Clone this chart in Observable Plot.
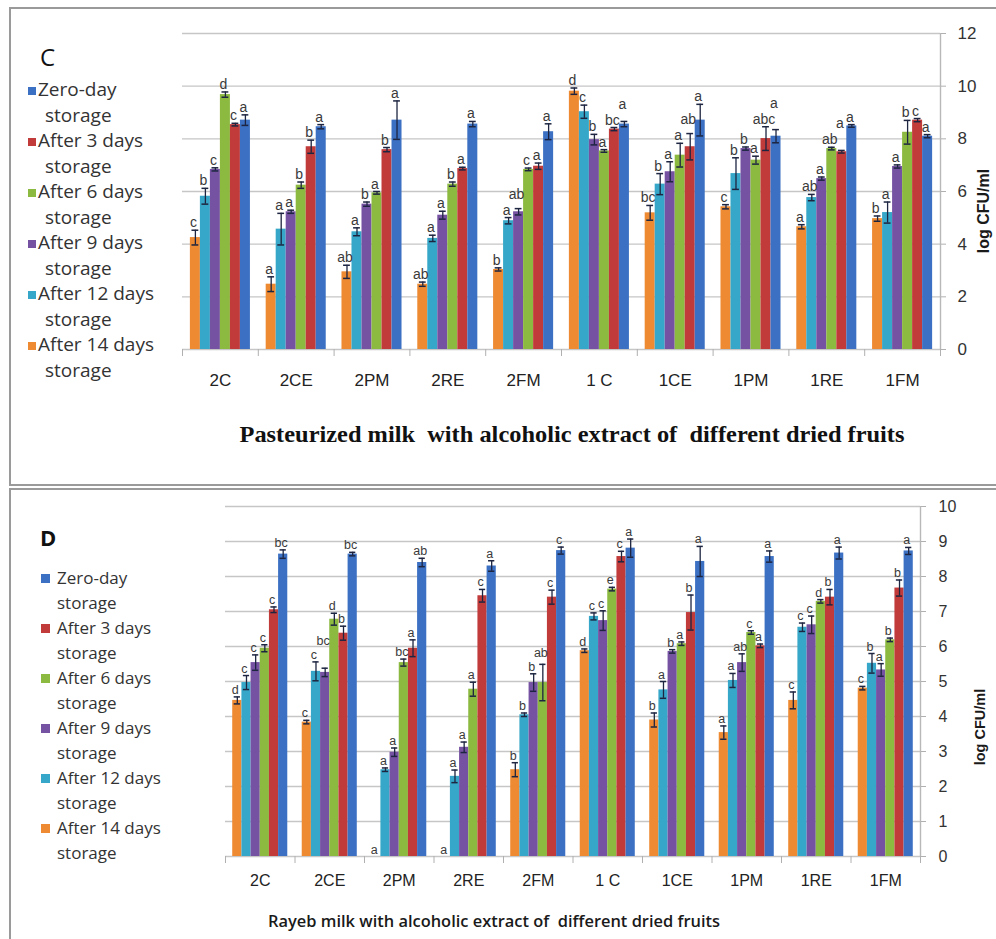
<!DOCTYPE html>
<html>
<head>
<meta charset="utf-8">
<script src="https://cdn.jsdelivr.net/npm/d3@7/dist/d3.min.js"></script>
<script src="https://cdn.jsdelivr.net/npm/@observablehq/plot@0.6/dist/plot.umd.min.js"></script>
<style>
  html, body { margin: 0; padding: 0; background: #fff; }
  #page { position: relative; width: 996px; height: 939px; overflow: hidden; background: #fff; font-family: "Open Sans", "Liberation Sans", sans-serif; }
  .box { position: absolute; border: 2px solid #9a9a9a; box-sizing: border-box; }
  .chart { position: absolute; left: 0; }
  .legend { position: absolute; color: #333; }
  .legend .line { position: relative; white-space: nowrap; }
  .legend .sq { position: absolute; left: 0; }
  .panel-letter { position: absolute; color: #111; line-height: 1; }
  #overlay { position: absolute; left: 0; top: 0; pointer-events: none; }
</style>
</head>
<body>
<div id="page">
  <div class="box" style="left:9px; top:7px; width:1000px; height:479px;"></div>
  <div class="box" style="left:9px; top:488px; width:1000px; height:470px;"></div>
  <div id="chartC" class="chart" style="top:0px;"></div>
  <div id="chartD" class="chart" style="top:480px;"></div>
  <div class="panel-letter" style="left:40px; top:45px; font-size:24px; font-family:'Open Sans',sans-serif;">C</div>
  <div class="panel-letter" style="left:40px; top:526px; font-size:22px; font-weight:700; font-family:'Open Sans',sans-serif;">D</div>
  <div id="legendC" class="legend"></div>
  <div id="legendD" class="legend"></div>
</div>
<script>
// ---------- categories & series ----------
const groups = ["2C", "2CE", "2PM", "2RE", "2FM", "1 C", "1CE", "1PM", "1RE", "1FM"];
// bar order inside each group (left to right)
const barSeries = ["After 14 days storage", "After 12 days storage", "After 9 days storage",
                   "After 6 days storage", "After 3 days storage", "Zero-day storage"];
const barColors = ["#ee8a32", "#36a7c8", "#7652a3", "#8cb940", "#c23b3b", "#3b70c3"];
const legendSeries = ["Zero-day storage", "After 3 days storage", "After 6 days storage",
                      "After 9 days storage", "After 12 days storage", "After 14 days storage"];
const yTicksC = [0, 2, 4, 6, 8, 10, 12];
const yTicksD = [0, 1, 2, 3, 4, 5, 6, 7, 8, 9, 10];
const titleC = "Pasteurized milk  with alcoholic extract of  different dried fruits";
const titleD = "Rayeb milk with alcoholic extract of  different dried fruits";
const yLabel = "log CFU/ml";

// ---------- Panel C : Pasteurized milk (log CFU/ml) ----------
const c14 = [4.25, 2.48, 2.95, 2.48, 3.04, 9.81, 5.19, 5.42, 4.66, 4.97];
const c12 = [5.82, 4.57, 4.47, 4.22, 4.89, 9.03, 6.28, 6.68, 5.77, 5.20];
const c9  = [6.84, 5.23, 5.52, 5.10, 5.23, 7.97, 6.75, 7.63, 6.49, 6.95];
const c6  = [9.68, 6.24, 5.95, 6.28, 6.84, 7.54, 7.38, 7.19, 7.63, 8.25];
const c3  = [8.54, 7.70, 7.59, 6.87, 6.96, 8.37, 7.70, 8.01, 7.51, 8.71];
const c0  = [8.71, 8.46, 8.71, 8.56, 8.27, 8.56, 8.71, 8.10, 8.49, 8.10];

const ce14 = [0.28, 0.28, 0.25, 0.08, 0.06, 0.12, 0.28, 0.08, 0.08, 0.10];
const ce12 = [0.30, 0.60, 0.15, 0.12, 0.12, 0.25, 0.40, 0.60, 0.12, 0.40];
const ce9  = [0.06, 0.06, 0.08, 0.15, 0.12, 0.20, 0.38, 0.06, 0.06, 0.06];
const ce6  = [0.10, 0.12, 0.05, 0.08, 0.05, 0.05, 0.45, 0.15, 0.05, 0.45];
const ce3  = [0.05, 0.25, 0.08, 0.05, 0.12, 0.06, 0.50, 0.45, 0.05, 0.06];
const ce0  = [0.20, 0.08, 0.73, 0.10, 0.30, 0.10, 0.60, 0.25, 0.05, 0.06];

const cl14 = ["c", "a", "ab", "ab", "b", "d", "bc", "c", "a", "b"];
const cl12 = ["b", "a", "a", "a", "a", "c", "b", "b", "ab", "a"];
const cl9  = ["c", "a", "b", "a", "ab", "b", "a", "b", "a", "a"];
const cl6  = ["d", "b", "a", "b", "c", "a", "a", "a", "ab", "b"];
const cl3  = ["c", "b", "b", "a", "a", "bc", "ab", "abc", "a", "c"];
const cl0  = ["a", "a", "a", "a", "a", "a", "a", "a", "a", "a"];

// ---------- Panel D : Rayeb milk (log CFU/ml) ----------
const d14 = [4.46, 3.84, 0.00, 0.00, 2.48, 5.88, 3.90, 3.54, 4.46, 4.81];
const d12 = [4.97, 5.29, 2.48, 2.29, 4.05, 6.86, 4.76, 5.03, 6.55, 5.52];
const d9  = [5.54, 5.26, 2.98, 3.12, 4.97, 6.74, 5.86, 5.54, 6.62, 5.33];
const d6  = [5.95, 6.78, 5.54, 4.78, 4.97, 7.64, 6.08, 6.40, 7.29, 6.19];
const d3  = [7.05, 6.38, 5.95, 7.45, 7.41, 8.57, 6.97, 6.02, 7.41, 7.67];
const d0  = [8.64, 8.64, 8.40, 8.30, 8.74, 8.81, 8.43, 8.57, 8.67, 8.73];

const de14 = [0.10, 0.05, 0.00, 0.00, 0.20, 0.05, 0.20, 0.19, 0.24, 0.05];
const de12 = [0.20, 0.27, 0.05, 0.18, 0.05, 0.10, 0.24, 0.20, 0.12, 0.28];
const de9  = [0.22, 0.12, 0.12, 0.15, 0.25, 0.28, 0.05, 0.25, 0.25, 0.18];
const de6  = [0.10, 0.17, 0.10, 0.20, 0.52, 0.05, 0.05, 0.05, 0.05, 0.05];
const de3  = [0.08, 0.20, 0.24, 0.18, 0.20, 0.15, 0.50, 0.05, 0.22, 0.23];
const de0  = [0.12, 0.05, 0.12, 0.15, 0.10, 0.26, 0.43, 0.16, 0.17, 0.10];

const dl14 = ["d", "c", "a", "a", "b", "d", "b", "a", "c", "c"];
const dl12 = ["c", "c", "a", "a", "b", "c", "a", "a", "c", "b"];
const dl9  = ["c", "bc", "a", "a", "b", "c", "b", "ab", "c", "a"];
const dl6  = ["c", "d", "bc", "a", "ab", "e", "a", "c", "d", "b"];
const dl3  = ["c", "b", "a", "c", "c", "c", "b", "a", "b", "b"];
const dl0  = ["bc", "bc", "ab", "a", "c", "a", "a", "a", "a", "a"];

// ---------- build tables ----------
function table(vals, errs, labs) {
  const rows = [];
  barSeries.forEach((s, k) => groups.forEach((g, i) =>
    rows.push({group: g, gi: i, series: s, k, value: vals[k][i], err: errs[k][i], label: labs[k][i]})));
  return rows;
}
const rowsC = table([c14, c12, c9, c6, c3, c0], [ce14, ce12, ce9, ce6, ce3, ce0], [cl14, cl12, cl9, cl6, cl3, cl0]);
const rowsD = table([d14, d12, d9, d6, d3, d0], [de14, de12, de9, de6, de3, de0], [dl14, dl12, dl9, dl6, dl3, dl0]);

const BW = 0.132, OFF = (1 - 6 * BW) / 2, CAP = 0.045;
const bx1 = d => d.gi + OFF + d.k * BW;
const bx2 = d => bx1(d) + BW;
const bxc = d => bx1(d) + BW / 2;
const bounds = Array.from({length: groups.length + 1}, (_, i) => i);
const centers = groups.map((_, i) => i + 0.5);

// simple collision avoidance for significance letters: lift a letter above any
// neighbour it would overlap (computed in pixels, returned in data units)
function liftLabels(rows, pxX, pxY, font, gap) {
  const lift = new Map();
  groups.forEach((g, gi) => {
    const placed = [];
    rows.filter(d => d.gi === gi).sort((a, b) => a.k - b.k).forEach(d => {
      const cx = bxc(d) * pxX - 2;
      const w = d.label.length * 0.58 * font;
      const h = font * 1.1;
      const base = (d.value + d.err) * pxY + gap;
      let bottom = base, moved = true;
      while (moved) {
        moved = false;
        for (const p of placed) {
          const xo = Math.abs(cx - p.cx) < (w + p.w) / 2 + 0.5;
          const yo = bottom < p.bottom + p.h && bottom + h > p.bottom;
          if (xo && yo) { bottom = p.bottom + p.h + 0.5; moved = true; }
        }
      }
      placed.push({cx, w, h, bottom});
      lift.set(d, (bottom - base) / pxY);
    });
  });
  return lift;
}

function chart(o) {
  const withErr = o.rows.filter(d => d.err > 0);
  const pxX = (996 - o.ml - o.mr) / groups.length;
  const pxY = (o.height - o.mt - o.mb) / o.yMax;
  const lift = liftLabels(o.rows, pxX, pxY, o.labFont, 3);
  return Plot.plot({
    width: 996, height: o.height,
    marginLeft: o.ml, marginRight: o.mr, marginTop: o.mt, marginBottom: o.mb,
    x: {domain: [0, groups.length]},
    y: {domain: [0, o.yMax]},
    color: {domain: barSeries, range: barColors},
    style: {background: "transparent", fontFamily: "'Liberation Sans', Arial, sans-serif", overflow: "visible"},
    marks: [
      Plot.gridY(o.yTicks, {stroke: "#c6c6c6", strokeOpacity: 1, strokeWidth: 1.4}),
      Plot.ruleX([groups.length], {stroke: "#b8b8b8", strokeWidth: 1.4}),
      Plot.axisY(o.yTicks, {anchor: "right", tickSize: 5, tickPadding: o.tickPad, fontSize: o.tickFont,
                            stroke: "#b0b0b0", fill: "#333", label: null}),
      Plot.axisX(bounds, {tickSize: 7, tickFormat: () => "", stroke: "#b0b0b0", label: null}),
      Plot.axisX(centers, {tickSize: 0, tickPadding: o.catPad,
                 tickFormat: d => groups[Math.floor(d)], fontSize: o.catFont, fill: "#222", label: null}),
      Plot.rect(o.rows, {x1: bx1, x2: bx2, y1: 0, y2: "value", fill: "series"}),
      Plot.ruleX(withErr, {x: bxc, y1: d => d.value - d.err, y2: d => d.value + d.err, stroke: "#1d2540", strokeWidth: 1.3}),
      Plot.ruleY(withErr, {x1: d => bxc(d) - CAP, x2: d => bxc(d) + CAP, y: d => d.value + d.err, stroke: "#1d2540", strokeWidth: 1.5}),
      Plot.ruleY(withErr, {x1: d => bxc(d) - CAP, x2: d => bxc(d) + CAP, y: d => d.value - d.err, stroke: "#1d2540", strokeWidth: 1.5}),
      Plot.text(o.rows, {x: bxc, y: d => d.value + d.err + lift.get(d), text: "label", dx: -2, dy: -3,
                         lineAnchor: "bottom", fontSize: o.labFont, fill: "#3a3a3a"})
    ]
  });
}

document.getElementById("chartC").append(chart({
  rows: rowsC, yMax: 12, yTicks: yTicksC, height: 400,
  ml: 182, mr: 56, mt: 33, mb: 51, tickPad: 12, tickFont: 17, catPad: 24, catFont: 17, labFont: 14
}));
document.getElementById("chartD").append(chart({
  rows: rowsD, yMax: 10, yTicks: yTicksD, height: 420,
  ml: 225, mr: 76, mt: 26, mb: 44, tickPad: 13, tickFont: 16, catPad: 18, catFont: 16, labFont: 12.5
}));

// ---------- legends ----------
function legend(id, o) {
  const el = document.getElementById(id);
  el.style.left = o.left + "px";
  el.style.top = o.top + "px";
  el.style.fontSize = o.fontSize + "px";
  legendSeries.forEach(s => {
    const cut = s.lastIndexOf(" ");
    const first = s.slice(0, cut), second = s.slice(cut + 1);
    const color = barColors[barSeries.indexOf(s)];
    const l1 = document.createElement("div");
    l1.className = "line";
    l1.style.height = l1.style.lineHeight = o.pitch + "px";
    l1.style.paddingLeft = o.textLeft + "px";
    l1.textContent = first;
    const sq = document.createElement("span");
    sq.className = "sq";
    sq.style.width = sq.style.height = o.sq + "px";
    sq.style.top = ((o.pitch - o.sq) / 2 + 1) + "px";
    sq.style.background = color;
    l1.prepend(sq);
    const l2 = document.createElement("div");
    l2.className = "line";
    l2.style.height = l2.style.lineHeight = o.pitch + "px";
    l2.style.paddingLeft = o.contLeft + "px";
    l2.textContent = second;
    el.append(l1, l2);
  });
}
legend("legendC", {left: 28, top: 77, pitch: 25.5, fontSize: 19, sq: 8, textLeft: 10, contLeft: 17});
legend("legendD", {left: 41, top: 564.5, pitch: 25, fontSize: 17, sq: 9, textLeft: 16, contLeft: 16});

// ---------- titles and axis names ----------
const NS = "http://www.w3.org/2000/svg";
const svg = document.createElementNS(NS, "svg");
svg.setAttribute("id", "overlay");
svg.setAttribute("width", 996);
svg.setAttribute("height", 939);
document.getElementById("page").append(svg);
function addText(str, attrs) {
  const t = document.createElementNS(NS, "text");
  t.textContent = str;
  for (const [k, v] of Object.entries(attrs)) t.setAttribute(k, v);
  t.style.whiteSpace = "pre";
  svg.append(t);
}
addText(titleC, {x: 572, y: 437, "text-anchor": "middle", "dominant-baseline": "middle",
  "font-family": "'Liberation Serif', 'DejaVu Serif', serif", "font-weight": 700, "font-size": 23,
  textLength: 665, lengthAdjust: "spacingAndGlyphs", fill: "#111"});
addText(titleD, {x: 494, y: 922, "text-anchor": "middle", "dominant-baseline": "middle",
  "font-family": "'Open Sans', sans-serif", "font-weight": 600, "font-size": 17,
  textLength: 452, lengthAdjust: "spacingAndGlyphs", fill: "#1a1a1a"});
addText(yLabel, {transform: "translate(985,211) rotate(-90)", "text-anchor": "middle", "dominant-baseline": "middle",
  "font-family": "'Liberation Sans', sans-serif", "font-weight": 700, "font-size": 16, fill: "#1a1a1a"});
addText(yLabel, {transform: "translate(981,727) rotate(-90)", "text-anchor": "middle", "dominant-baseline": "middle",
  "font-family": "'Liberation Sans', sans-serif", "font-weight": 700, "font-size": 14.5, fill: "#1a1a1a"});
</script>
</body>
</html>
